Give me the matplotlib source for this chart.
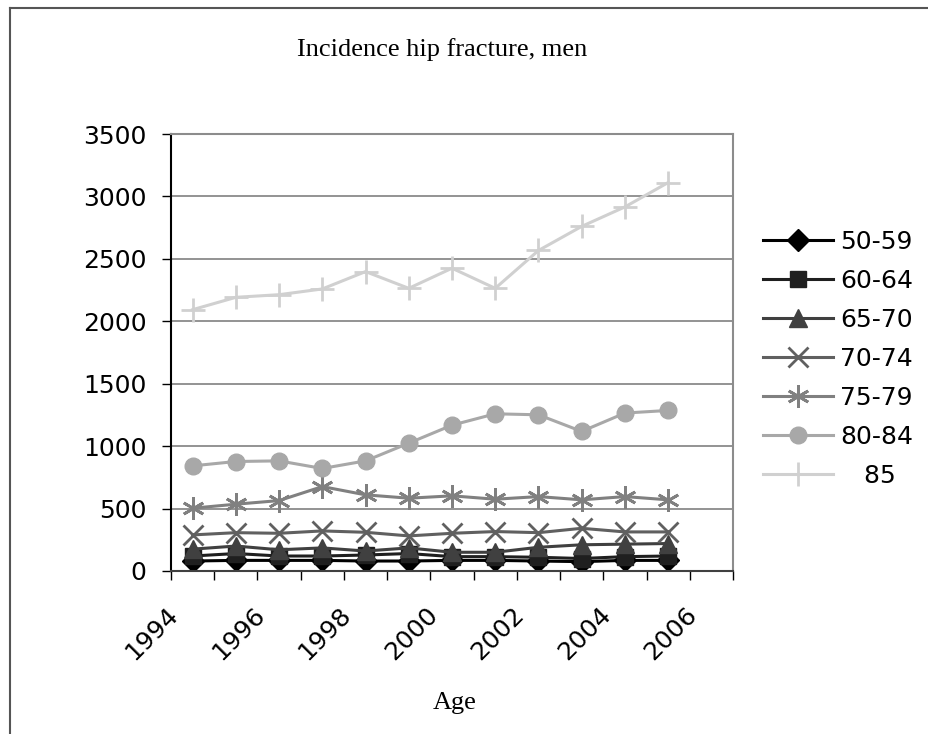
import matplotlib
matplotlib.use("Agg")
import matplotlib.pyplot as plt
import matplotlib.transforms as mtransforms
from matplotlib.lines import Line2D
import numpy as np

# years (points sit in the middle of each year on the date axis)
years = np.arange(1994, 2006)
age_groups = ["50-59", "60-64", "65-70", "70-74", "75-79", "80-84", "   85"]

inc_50_59 = [80, 85, 85, 85, 80, 80, 85, 85, 80, 75, 85, 85]
inc_60_64 = [120, 140, 120, 120, 128, 140, 115, 115, 110, 100, 115, 120]
inc_65_70 = [175, 200, 170, 185, 160, 185, 150, 150, 190, 210, 215, 220]
inc_70_74 = [289, 307, 302, 321, 310, 281, 302, 316, 307, 342, 313, 313]
inc_75_79 = [503, 535, 564, 676, 610, 583, 602, 575, 596, 570, 596, 570]
inc_80_84 = [842, 877, 882, 821, 882, 1024, 1168, 1259, 1251, 1118, 1265, 1286]
inc_85 = [2093, 2192, 2213, 2259, 2398, 2264, 2425, 2264, 2567, 2760, 2916, 3111]

series = [inc_50_59, inc_60_64, inc_65_70, inc_70_74, inc_75_79, inc_80_84, inc_85]
colors = ["#000000", "#1f1f1f", "#404040", "#606060", "#808080", "#a8a8a8", "#d0d0d0"]
markers = ["D", "s", "^", "x", (6, 2, 0), "o", "+"]
msizes = [11, 12, 13, 14, 16, 12, 17]

fig = plt.figure(figsize=(9.29, 7.34), dpi=100)
ax = fig.add_axes([171 / 929, 1 - 571 / 734, (733 - 171) / 929, (571 - 134) / 734])

x = years + 0.5
for vals, lab, c, m, ms in zip(series, age_groups, colors, markers, msizes):
    ax.plot(x, vals, color=c, marker=m, markersize=ms, linewidth=2.2,
            markeredgewidth=2 if m in ("x", "+") or isinstance(m, tuple) else 1,
            markeredgecolor=c, markerfacecolor=c, label=lab)

ax.set_xlim(1994, 2007)
ax.set_ylim(0, 3500)
ax.set_yticks(np.arange(0, 3501, 500))
ax.set_xticks(np.arange(1994, 2008))
ax.set_xticklabels([str(y) if y % 2 == 0 and y <= 2006 else "" for y in range(1994, 2008)])
ax.grid(axis="y", color="#808080", linewidth=1.2)
ax.set_axisbelow(True)

ax.spines["left"].set_color("black")
ax.spines["bottom"].set_color("#404040")
ax.spines["top"].set_color("#8c8c8c")
ax.spines["right"].set_color("#8c8c8c")
for s in ax.spines.values():
    s.set_linewidth(1.5)

ax.tick_params(axis="y", length=6.5, width=1, pad=11, labelsize=18)
ax.tick_params(axis="x", length=6.5, width=1, pad=16, labelsize=18)
shift = mtransforms.ScaledTranslation(-5 / 100, 0, fig.dpi_scale_trans)
for lbl in ax.get_xticklabels():
    lbl.set_rotation(45)
    lbl.set_ha("right")
    lbl.set_rotation_mode("anchor")
    lbl.set_transform(lbl.get_transform() + shift)

fig.text(442 / 929, 1 - 50 / 734, "Incidence hip fracture, men", family="Liberation Serif",
         fontsize=19, ha="center", va="center")
fig.text(455 / 929, 1 - 703 / 734, "Age", family="Liberation Serif",
         fontsize=19, ha="center", va="center")

fig.legend(loc="center left", bbox_to_anchor=(763 / 929, 1 - 359 / 734), frameon=False,
           fontsize=18, handlelength=2.8, handletextpad=0.3, labelspacing=0.6,
           borderpad=0, borderaxespad=0)

# outer chart border (left and top only visible)
fig.add_artist(Line2D([10 / 929, 10 / 929], [0, 1 - 8 / 734], transform=fig.transFigure,
                      color="#555555", linewidth=1.5))
fig.add_artist(Line2D([10 / 929, 1], [1 - 8 / 734, 1 - 8 / 734], transform=fig.transFigure,
                      color="#555555", linewidth=1.5))

fig.savefig("out.png", dpi=100)
